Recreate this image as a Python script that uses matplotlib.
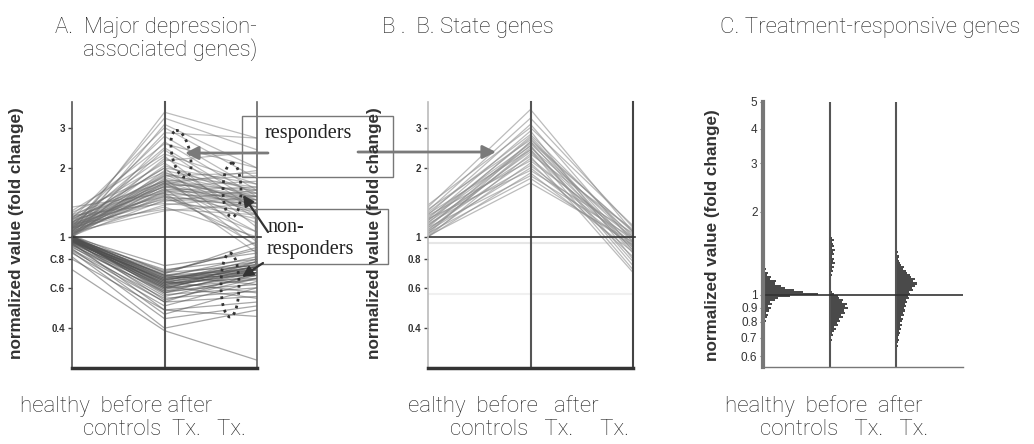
import numpy as np
import matplotlib
matplotlib.use("Agg")
import matplotlib.pyplot as plt
from matplotlib.patches import Ellipse, Rectangle

# ---------------- data ----------------
conditions = ["healthy controls", "before Tx.", "after Tx."]

# Panel A: major depression-associated genes (fold change at healthy, before, after)
a_up_healthy = [1.05, 1.10, 1.02, 1.20, 1.08, 1.15, 1.00, 1.25, 1.12, 1.05, 1.30, 1.18, 1.02, 1.10, 1.22,
                1.06, 1.15, 1.00, 1.28, 1.09, 1.04, 1.14, 1.20, 1.01, 1.11, 1.07, 1.25, 1.03, 1.16, 1.09,
                1.00, 1.13, 1.22, 1.05, 1.10, 1.17, 1.02, 1.08, 1.35, 1.12, 1.04, 1.19, 1.06, 1.15, 1.01,
                1.10, 1.24, 1.03, 1.09, 1.14, 1.05, 1.20, 1.07, 1.11, 1.03, 1.16, 1.02, 1.09, 1.13, 1.06]
a_up_before = [3.50, 3.30, 3.10, 3.00, 2.85, 2.75, 2.60, 2.55, 2.45, 2.40, 2.30, 2.25, 2.20, 2.15, 2.10,
               2.05, 2.00, 1.95, 1.92, 1.90, 1.88, 1.85, 1.82, 1.80, 1.78, 1.76, 1.75, 1.73, 1.72, 1.70,
               1.68, 1.66, 1.65, 1.63, 1.62, 1.60, 1.58, 1.57, 1.55, 1.53, 1.52, 1.50, 1.48, 1.46, 1.45,
               1.43, 1.40, 1.38, 1.35, 1.32, 1.30, 1.75, 1.70, 1.66, 1.60, 2.00, 1.85, 1.55, 1.72, 1.50]
a_up_after = [2.70, 2.40, 2.00, 1.80, 2.70, 1.60, 1.50, 2.00, 1.40, 1.30, 1.70, 1.10, 1.55, 2.35, 1.20,
              1.45, 0.95, 1.60, 1.35, 1.50, 1.25, 1.65, 1.40, 0.90, 1.55, 1.45, 1.30, 1.50, 1.15, 1.60,
              1.40, 1.35, 1.50, 0.85, 1.45, 1.30, 1.55, 1.40, 1.25, 1.50, 1.05, 1.35, 1.45, 1.20, 1.40,
              1.60, 1.30, 1.50, 1.00, 1.25, 1.40, 1.85, 1.95, 1.75, 1.65, 1.70, 1.90, 0.92, 1.05, 0.98]

a_down_healthy = [1.00, 0.98, 1.02, 0.97, 0.99, 1.00, 0.96, 1.01, 0.98, 0.95, 1.00, 0.97, 0.99, 0.93, 1.00,
                  0.96, 0.98, 0.94, 1.01, 0.97, 0.92, 0.99, 0.95, 0.98, 0.90, 1.00, 0.96, 0.93, 0.88, 0.97,
                  0.91, 0.85, 0.94, 0.89, 0.86, 0.72, 0.95, 0.99, 1.01, 0.97, 0.94, 0.99, 0.96, 1.00, 0.92,
                  0.98, 0.87, 0.95, 0.80, 0.97, 0.82]
a_down_before = [0.75, 0.72, 0.70, 0.70, 0.68, 0.68, 0.67, 0.66, 0.66, 0.65, 0.65, 0.64, 0.64, 0.63, 0.63,
                 0.62, 0.62, 0.61, 0.61, 0.60, 0.60, 0.59, 0.59, 0.58, 0.58, 0.57, 0.56, 0.55, 0.54, 0.53,
                 0.52, 0.50, 0.48, 0.46, 0.44, 0.39, 0.69, 0.71, 0.67, 0.63, 0.66, 0.62, 0.68, 0.64, 0.57,
                 0.60, 0.52, 0.65, 0.48, 0.61, 0.40]
a_down_after = [0.85, 0.80, 0.75, 0.90, 0.72, 0.78, 0.70, 0.74, 0.68, 0.76, 0.72, 0.70, 0.80, 0.66, 0.74,
                0.72, 0.69, 0.75, 0.70, 0.65, 0.73, 0.68, 0.78, 0.70, 0.62, 0.72, 0.60, 0.68, 0.58, 0.66,
                0.55, 0.64, 0.52, 0.60, 0.50, 0.29, 0.95, 0.88, 0.82, 0.78, 0.76, 0.74, 0.62, 0.57, 0.66,
                0.72, 0.70, 0.74, 0.45, 0.54, 0.48]

# Panel B: state genes
b_healthy = [1.35, 1.30, 1.25, 1.38, 1.20, 1.28, 1.15, 1.32, 1.10, 1.22, 1.18, 1.05, 1.26, 1.12, 1.00,
             1.16, 1.08, 1.24, 1.02, 1.14, 1.06, 1.20, 1.00, 1.10, 1.04, 1.01, 1.12, 1.18, 1.07, 1.03]
b_before = [3.60, 3.30, 3.10, 3.00, 2.90, 2.80, 2.75, 2.65, 2.60, 2.55, 2.50, 2.45, 2.40, 2.35, 2.30,
            2.25, 2.20, 2.15, 2.10, 2.05, 2.00, 1.95, 1.90, 1.85, 1.80, 1.72, 2.50, 2.70, 2.40, 2.60]
b_after = [1.05, 1.10, 0.95, 1.12, 0.80, 1.00, 0.90, 1.05, 0.85, 0.98, 0.75, 1.02, 0.92, 0.88, 1.08,
           0.70, 0.96, 1.00, 0.82, 0.94, 0.90, 1.04, 0.86, 0.99, 0.92, 0.95, 0.78, 0.87, 0.72, 1.06]

# Panel C: treatment-responsive genes, histogram counts per log2 bin (-0.75 .. +0.75, step 0.025)
c_healthy = [0, 0, 0, 0, 0, 0, 0, 0, 0, 0, 0, 0, 0, 0, 1, 0, 2, 3, 2, 4,
             5, 3, 6, 8, 5, 9, 7, 12, 15, 27, 55, 40, 31, 22, 18, 12, 13, 7, 8, 4,
             5, 2, 3, 1, 2, 1, 0, 1, 0, 0, 0, 0, 0, 0, 0, 0, 0, 0, 0, 0]
c_before = [0, 0, 0, 0, 0, 0, 1, 0, 2, 1, 3, 2, 4, 6, 4, 8, 7, 10, 9, 13,
            11, 15, 14, 18, 15, 17, 12, 13, 9, 8, 4, 2, 1, 0, 1, 0, 1, 0, 1, 2,
            1, 3, 2, 4, 2, 5, 3, 4, 2, 4, 3, 5, 2, 4, 3, 2, 4, 2, 1, 1]
c_after = [0, 0, 1, 0, 1, 2, 1, 2, 3, 2, 3, 4, 3, 5, 4, 6, 4, 6, 7, 5,
           8, 7, 9, 8, 10, 9, 11, 10, 13, 12, 14, 13, 17, 16, 19, 21, 17, 19, 15, 14,
           11, 10, 7, 8, 5, 4, 3, 2, 3, 1, 2, 1, 1, 0, 1, 1, 0, 1, 0, 1]

# ---------------- figure ----------------
W, H = 1034, 444
fig = plt.figure(figsize=(W / 100, H / 100), dpi=100)
fig.patch.set_facecolor("white")

def rect(x0, y0, x1, y1):
    return [x0 / W, 1 - y1 / H, (x1 - x0) / W, (y1 - y0) / H]

TXT = ["Roboto", "Open Sans", "DejaVu Sans"]
LABEL_FONT = ["Liberation Sans", "DejaVu Sans"]
xpos = [0, 1, 2]


def style_parallel(ax, ticklabels):
    ax.set_yscale("log")
    ax.set_ylim(0.268, 3.88)
    ax.set_xlim(0, 2)
    ax.set_xticks([])
    ax.minorticks_off()
    ticks = [0.4, 0.6, 0.8, 1, 2, 3]
    ax.set_yticks(ticks)
    ax.set_yticklabels(ticklabels, fontsize=7, fontweight="bold", color="#333333",
                       family=LABEL_FONT)
    ax.tick_params(axis="y", length=3, width=1, pad=2, color="#444444")
    ax.yaxis.set_minor_locator(matplotlib.ticker.NullLocator())
    for s in ["top", "right"]:
        ax.spines[s].set_visible(False)
    ax.spines["bottom"].set_linewidth(2.5)
    ax.spines["bottom"].set_color("#333333")
    ax.spines["left"].set_color("#555555")
    ax.spines["left"].set_linewidth(1.2)
    ax.patch.set_alpha(0)


# ---- Panel A ----
axA = fig.add_axes(rect(72, 102, 257, 368))
for h, b, a in zip(a_up_healthy, a_up_before, a_up_after):
    axA.plot(xpos, [h, b, a], color="#6a6a6a", alpha=0.45, lw=0.9)
for h, b, a in zip(a_down_healthy, a_down_before, a_down_after):
    axA.plot(xpos, [h, b, a], color="#505050", alpha=0.5, lw=0.9)
axA.axvline(1, color="#555555", lw=1.5, clip_on=False)
axA.axvline(2, color="#666666", lw=1.2, clip_on=False)
axA.axhline(1, color="#333333", lw=1.2, xmax=1.02, clip_on=False)
style_parallel(axA, ["0.4", "C.6", "C.8", "1", "2", "3"])

# ---- Panel B ----
axB = fig.add_axes(rect(428, 102, 633, 368))
axB.axhline(0.94, color="#e6e6e6", lw=1.5)
axB.axhline(0.565, color="#f0f0f0", lw=1.5)
for h, b, a in zip(b_healthy, b_before, b_after):
    axB.plot(xpos, [h, b, a], color="#8f8f8f", alpha=0.6, lw=0.9)
axB.axvline(1, color="#555555", lw=1.5, clip_on=False)
axB.axvline(2, color="#444444", lw=1.5, clip_on=False)
axB.axhline(1, color="#333333", lw=1.2, xmax=1.01, clip_on=False)
style_parallel(axB, ["0.4", "0.6", "0.8", "1", "2", "3"])
axB.spines["left"].set_color("#bbbbbb")

# ---- Panel C ----
axC = fig.add_axes(rect(763, 102, 963, 367))
axC.set_yscale("log")
axC.set_ylim(0.548, 5.0)
axC.set_xlim(0, 3.0)
edges = 2.0 ** (-0.75 + 0.025 * np.arange(len(c_healthy) + 1))
px_per_unit = 200 / 3.0
for pos, counts in zip(xpos, [c_healthy, c_before, c_after]):
    axC.barh(edges[:-1], np.array(counts) / px_per_unit, height=np.diff(edges), left=pos,
             align="edge", color="#4a4a4a", linewidth=0)
axC.axvline(1, color="#555555", lw=1.5)
axC.axvline(2, color="#555555", lw=1.5)
axC.axhline(1, color="#333333", lw=1.2)
axC.set_xticks([])
ctick = [0.6, 0.7, 0.8, 0.9, 1, 2, 3, 4, 5]
axC.set_yticks(ctick)
axC.set_yticklabels(["0.6", "0.7", "0.8", "0.9", "1", "2", "3", "4", "5"], fontsize=8.5,
                    color="#333333", family=LABEL_FONT)
axC.yaxis.set_minor_locator(matplotlib.ticker.NullLocator())
axC.tick_params(axis="y", length=2, width=0.8, pad=2, color="#666666")
axC.spines["top"].set_visible(False)
axC.spines["right"].set_visible(False)
axC.spines["left"].set_linewidth(3)
axC.spines["left"].set_color("#777777")
axC.spines["bottom"].set_color("#777777")
axC.spines["bottom"].set_linewidth(1)
axC.patch.set_alpha(0)

# ---------------- texts ----------------
def ftext(x, y, s, **kw):
    fig.text(x / W, 1 - y / H, s, **kw)

tkw = dict(fontsize=16, family=TXT, fontweight="light", color="#222222", va="baseline", ha="left")
ftext(55, 33, "A.  Major depression-", **tkw)
ftext(83, 56, "associated genes)", **tkw)
ftext(382, 33, "B .  B. State genes", **tkw)
ftext(720, 33, "C. Treatment-responsive genes", **tkw)

ftext(20, 412, "healthy  before after", **tkw)
ftext(83, 435, "controls  Tx.   Tx.", **tkw)
ftext(408, 412, "ealthy  before   after", **tkw)
ftext(450, 435, "controls   Tx.     Tx.", **tkw)
ftext(725, 412, "healthy  before  after", **tkw)
ftext(760, 435, "controls   Tx.   Tx.", **tkw)

ykw = dict(fontsize=12.3, fontweight="bold", family=LABEL_FONT, color="#333333",
           rotation=90, ha="center", va="center")
ftext(17, 233, "normalized value (fold change)", **ykw)
ftext(375, 233, "normalized value (fold change)", **ykw)
ftext(712, 235, "normalized value (fold change)", **ykw)

# ---------------- annotation overlay ----------------
ov = fig.add_axes([0, 0, 1, 1])
ov.set_xlim(0, W)
ov.set_ylim(H, 0)
ov.axis("off")
ov.patch.set_alpha(0)

ov.add_patch(Rectangle((242, 116), 151, 61, fill=False, ec="#777777", lw=1))
ov.add_patch(Rectangle((255, 209), 133, 55, fill=False, ec="#777777", lw=1))
skw = dict(fontsize=14.5, family=["Liberation Serif", "DejaVu Serif"], color="#222222", ha="left", va="center")
ov.text(265, 133, "responders", **skw)
ov.text(267, 227, "non-", **skw)
ov.text(267, 249, "responders", **skw)

akw = dict(arrowstyle="-|>", color="#7a7a7a", lw=2, mutation_scale=20, shrinkA=0, shrinkB=0)
ov.annotate("", xy=(185, 153), xytext=(268, 153), arrowprops=akw)
ov.annotate("", xy=(496, 152), xytext=(358, 152), arrowprops=akw)
dkw = dict(arrowstyle="-|>", color="#333333", lw=1.6, mutation_scale=16, shrinkA=0, shrinkB=0)
ov.annotate("", xy=(243, 195), xytext=(268, 232), arrowprops=dkw)
ov.annotate("", xy=(242, 277), xytext=(263, 263), arrowprops=dkw)

ekw = dict(fill=False, ec="#333333", lw=2, ls=(0, (1, 1.5)))
ov.add_patch(Ellipse((181, 154), 18, 48, angle=-12, **ekw))
ov.add_patch(Ellipse((232, 190), 18, 54, angle=0, **ekw))
ov.add_patch(Ellipse((230, 285), 18, 64, angle=0, **ekw))

fig.savefig("out.png", dpi=100, facecolor="white")
